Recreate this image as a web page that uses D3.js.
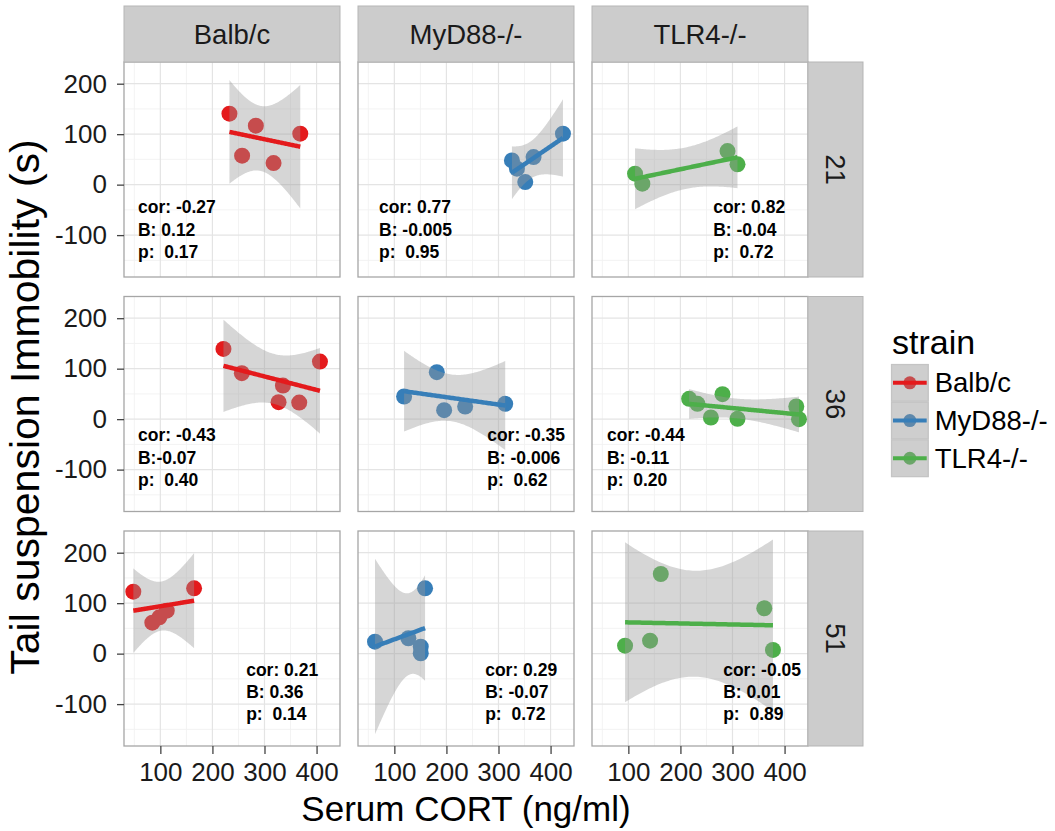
<!DOCTYPE html>
<html>
<head>
<meta charset="utf-8">
<script src="https://cdn.jsdelivr.net/npm/d3@7"></script>
<style>
  body { margin: 0; background: #ffffff; }
  text { font-family: "Liberation Sans", Arial, Helvetica, sans-serif; }
</style>
</head>
<body>
<svg id="chart" width="1055" height="831"></svg>
<script>
// ---- data -------------------------------------------------------------
const strains = ["Balb/c", "MyD88-/-", "TLR4-/-"];
const days = ["21", "36", "51"];
const strainColors = ["#E41A1C", "#377EB8", "#4DAF4A"];
const xTicks = [100, 200, 300, 400];
const yTicks = [-100, 0, 100, 200];
const xMinorTicks = [50, 150, 250, 350];
const yMinorTicks = [-150, -50, 50, 150];

// serum CORT (ng/ml) and tail suspension immobility (s) for each strain / day
const cortBalb21 = [232.7, 257.0, 283.4, 317.4, 368.7];
const immBalb21  = [140.6, 57.4, 116.8, 42.8, 101.0];
const cortMyD21  = [325.8, 335.4, 351.4, 367.3, 423.8];
const immMyD21   = [48.0, 31.7, 5.1, 54.7, 101.0];
const cortTLR21  = [112.9, 126.9, 290.4, 309.6];
const immTLR21   = [21.8, 2.0, 66.5, 40.2];

const cortBalb36 = [221.2, 256.5, 327.0, 335.4, 366.7, 406.5];
const immBalb36  = [139.2, 91.0, 33.7, 66.5, 32.9, 114.0];
const cortMyD36  = [118.7, 181.5, 195.6, 236.0, 312.9];
const immMyD36   = [44.8, 93.0, 17.8, 25.0, 30.3];
const cortTLR36  = [216.7, 232.7, 258.5, 280.8, 309.6, 422.5, 427.7];
const immTLR36   = [40.2, 30.3, 3.2, 49.5, 0.6, 25.0, 0.0];

const cortBalb51 = [48.1, 84.6, 98.1, 112.3, 164.8];
const immBalb51  = [122.8, 61.4, 72.0, 85.1, 129.5];
const cortMyD51  = [62.9, 126.9, 150.7, 150.7, 159.0];
const immMyD51   = [23.8, 30.5, 13.9, 0.8, 129.5];
const cortTLR51  = [93.7, 141.7, 162.3, 361.0, 377.7];
const immTLR51   = [15.8, 25.7, 157.8, 89.9, 7.3];

// printed statistics, one row per day, one entry per strain
const stats21 = [["cor: -0.27", "B: 0.12", "p:  0.17"],
                 ["cor: 0.77", "B: -0.005", "p:  0.95"],
                 ["cor: 0.82", "B: -0.04", "p:  0.72"]];
const stats36 = [["cor: -0.43", "B:-0.07", "p:  0.40"],
                 ["cor: -0.35", "B: -0.006", "p:  0.62"],
                 ["cor: -0.44", "B: -0.11", "p:  0.20"]];
const stats51 = [["cor: 0.21", "B: 0.36", "p:  0.14"],
                 ["cor: 0.29", "B: -0.07", "p:  0.72"],
                 ["cor: -0.05", "B: 0.01", "p:  0.89"]];

// two-sided 95% t quantiles by residual degrees of freedom
const tCrit = { 1: 12.706, 2: 4.303, 3: 3.182, 4: 2.776, 5: 2.571, 6: 2.447, 7: 2.365 };

// ---- assemble panel table ----------------------------------------------
const cortByDay = [[cortBalb21, cortMyD21, cortTLR21], [cortBalb36, cortMyD36, cortTLR36], [cortBalb51, cortMyD51, cortTLR51]];
const immByDay  = [[immBalb21, immMyD21, immTLR21], [immBalb36, immMyD36, immTLR36], [immBalb51, immMyD51, immTLR51]];
const statsByDay = [stats21, stats36, stats51];

// ---- layout ------------------------------------------------------------
const panelW = 216, panelH = 215;
const colX = [124, 358, 592];
const rowY = [62, 296.5, 531];
const stripTopY = 6, stripTopH = 56;
const stripRightX = 808, stripRightW = 55;
// anchor of each stat block (data units: left edge, first baseline)
const statAnchorX = [[57, 70.6, 262.9], [57, 278.3, 59], [264.8, 274.4, 282.1]];
const statAnchorY = [-57, -44, -44];

const svg = d3.select("#chart");
svg.append("rect").attr("width", 1055).attr("height", 831).attr("fill", "#ffffff");

const x = d3.scaleLinear().domain([30.2, 445]).range([0, panelW]);
const y = d3.scaleLinear().domain([-183, 243]).range([panelH, 0]);
const plainNumber = d => String(d);   // keeps an ASCII hyphen for negatives

function linearFit(xs, ys) {
  const n = xs.length;
  const mx = d3.mean(xs), my = d3.mean(ys);
  let sxx = 0, sxy = 0;
  for (let i = 0; i < n; i++) { sxx += (xs[i] - mx) ** 2; sxy += (xs[i] - mx) * (ys[i] - my); }
  const b = sxy / sxx, a = my - b * mx;
  let sse = 0;
  for (let i = 0; i < n; i++) sse += (ys[i] - (a + b * xs[i])) ** 2;
  const s = Math.sqrt(sse / (n - 2));
  const t = tCrit[n - 2];
  const [lo, hi] = d3.extent(xs);
  return d3.range(80).map(k => {
    const xv = lo + (hi - lo) * k / 79;
    const fit = a + b * xv;
    const se = s * Math.sqrt(1 / n + (xv - mx) ** 2 / sxx);
    return { x: xv, fit, lo: fit - t * se, hi: fit + t * se };
  });
}

const defs = svg.append("defs");
defs.append("clipPath").attr("id", "panelClip")
  .append("rect").attr("width", panelW).attr("height", panelH);

days.forEach((day, r) => {
  strains.forEach((strain, c) => {
    const g = svg.append("g").attr("transform", `translate(${colX[c]},${rowY[r]})`);
    g.append("rect").attr("width", panelW).attr("height", panelH).attr("fill", "#ffffff");

    const grid = g.append("g");
    grid.selectAll("line.xmin").data(xMinorTicks).join("line")
      .attr("x1", d => x(d)).attr("x2", d => x(d)).attr("y1", 0).attr("y2", panelH)
      .attr("stroke", "#f2f2f2").attr("stroke-width", 0.9);
    grid.selectAll("line.ymin").data(yMinorTicks).join("line")
      .attr("y1", d => y(d)).attr("y2", d => y(d)).attr("x1", 0).attr("x2", panelW)
      .attr("stroke", "#f2f2f2").attr("stroke-width", 0.9);
    grid.selectAll("line.xmaj").data(xTicks).join("line")
      .attr("x1", d => x(d)).attr("x2", d => x(d)).attr("y1", 0).attr("y2", panelH)
      .attr("stroke", "#e4e4e4").attr("stroke-width", 1.2);
    grid.selectAll("line.ymaj").data(yTicks).join("line")
      .attr("y1", d => y(d)).attr("y2", d => y(d)).attr("x1", 0).attr("x2", panelW)
      .attr("stroke", "#e4e4e4").attr("stroke-width", 1.2);

    const xs = cortByDay[r][c], ys = immByDay[r][c];
    const pts = xs.map((v, i) => ({ x: v, y: ys[i] }));
    const plot = g.append("g").attr("clip-path", "url(#panelClip)");

    // points first, the confidence ribbon and fitted line sit on top
    plot.selectAll("circle").data(pts).join("circle")
      .attr("cx", d => x(d.x)).attr("cy", d => y(d.y)).attr("r", 8)
      .attr("fill", strainColors[c]);

    const fit = linearFit(xs, ys);
    plot.append("path").datum(fit)
      .attr("d", d3.area().x(d => x(d.x)).y0(d => y(d.lo)).y1(d => y(d.hi)))
      .attr("fill", "#999999").attr("fill-opacity", 0.4);
    plot.append("path").datum(fit)
      .attr("d", d3.line().x(d => x(d.x)).y(d => y(d.fit)))
      .attr("fill", "none").attr("stroke", strainColors[c]).attr("stroke-width", 4.5);

    const lines = statsByDay[r][c];
    const tx = g.append("text")
      .attr("x", x(statAnchorX[r][c])).attr("y", y(statAnchorY[r]))
      .attr("font-size", 17.5).attr("font-weight", "bold").attr("fill", "#000")
      .style("white-space", "pre");
    lines.forEach((ln, i) => {
      tx.append("tspan").attr("x", x(statAnchorX[r][c])).attr("dy", i === 0 ? 0 : 22.3).text(ln);
    });

    g.append("rect").attr("width", panelW).attr("height", panelH)
      .attr("fill", "none").attr("stroke", "#a6a6a6").attr("stroke-width", 1.3);

    // axes on the outer panels only
    if (c === 0) {
      const ax = g.append("g").call(d3.axisLeft(y).tickValues(yTicks).tickFormat(plainNumber)
        .tickSize(7).tickPadding(10));
      ax.select(".domain").remove();
      ax.selectAll("line").attr("stroke", "#444").attr("stroke-width", 1.3);
      ax.selectAll("text").attr("font-size", 26).attr("fill", "#1a1a1a")
        .attr("font-family", "'Liberation Sans', Arial, sans-serif");
    }
    if (r === 2) {
      const ax = g.append("g").attr("transform", `translate(0,${panelH})`)
        .call(d3.axisBottom(x).tickValues(xTicks).tickFormat(plainNumber).tickSize(8).tickPadding(9));
      ax.select(".domain").remove();
      ax.selectAll("line").attr("stroke", "#444").attr("stroke-width", 1.3);
      ax.selectAll("text").attr("font-size", 26).attr("fill", "#1a1a1a")
        .attr("font-family", "'Liberation Sans', Arial, sans-serif");
    }
  });
});

// column strips
strains.forEach((s, c) => {
  svg.append("rect").attr("x", colX[c]).attr("y", stripTopY).attr("width", panelW).attr("height", stripTopH)
    .attr("fill", "#cccccc").attr("stroke", "#b5b5b5").attr("stroke-width", 1);
  svg.append("text").attr("x", colX[c] + panelW / 2).attr("y", stripTopY + stripTopH / 2)
    .attr("text-anchor", "middle").attr("dominant-baseline", "central")
    .attr("font-size", 27.5).attr("fill", "#1a1a1a").text(s);
});

// row strips
days.forEach((d, r) => {
  svg.append("rect").attr("x", stripRightX).attr("y", rowY[r]).attr("width", stripRightW).attr("height", panelH)
    .attr("fill", "#cccccc").attr("stroke", "#b5b5b5").attr("stroke-width", 1);
  svg.append("text")
    .attr("transform", `translate(${stripRightX + stripRightW / 2},${rowY[r] + panelH / 2}) rotate(90)`)
    .attr("text-anchor", "middle").attr("dominant-baseline", "central")
    .attr("font-size", 27.5).attr("fill", "#1a1a1a").text(d);
});

// axis titles
const panelsMidX = (colX[0] + colX[2] + panelW) / 2;
const panelsMidY = (rowY[0] + rowY[2] + panelH) / 2;
svg.append("text").attr("x", panelsMidX).attr("y", 821).attr("text-anchor", "middle")
  .attr("font-size", 35).attr("fill", "#000").text("Serum CORT (ng/ml)");
svg.append("text").attr("transform", `translate(39,${panelsMidY + 3}) rotate(-90)`).attr("text-anchor", "middle")
  .attr("font-size", 41).attr("fill", "#000").text("Tail suspension Immobility (s)");

// legend
const legend = svg.append("g").attr("transform", "translate(891,364)");
legend.append("text").attr("x", 1).attr("y", -10).attr("font-size", 34).attr("fill", "#000").text("strain");
const keySize = 37.7;
strains.forEach((s, i) => {
  const k = legend.append("g").attr("transform", `translate(0,${i * keySize})`);
  k.append("rect").attr("width", keySize).attr("height", keySize).attr("fill", "#f2f2f2");
  k.append("circle").attr("cx", keySize / 2).attr("cy", keySize / 2).attr("r", 6.5).attr("fill", strainColors[i]);
  k.append("rect").attr("width", keySize).attr("height", keySize)
    .attr("fill", "#999999").attr("fill-opacity", 0.4);
  k.append("line").attr("x1", 2).attr("x2", keySize - 2).attr("y1", keySize / 2).attr("y2", keySize / 2)
    .attr("stroke", strainColors[i]).attr("stroke-width", 4);
  k.append("rect").attr("x", 0.5).attr("y", 0.5).attr("width", keySize - 1).attr("height", keySize - 1)
    .attr("fill", "none").attr("stroke", "#c4c4c4").attr("stroke-width", 1.2);
  k.append("text").attr("x", keySize + 6).attr("y", keySize / 2).attr("dominant-baseline", "central")
    .attr("font-size", 27.5).attr("fill", "#000").text(s);
});
</script>
</body>
</html>
